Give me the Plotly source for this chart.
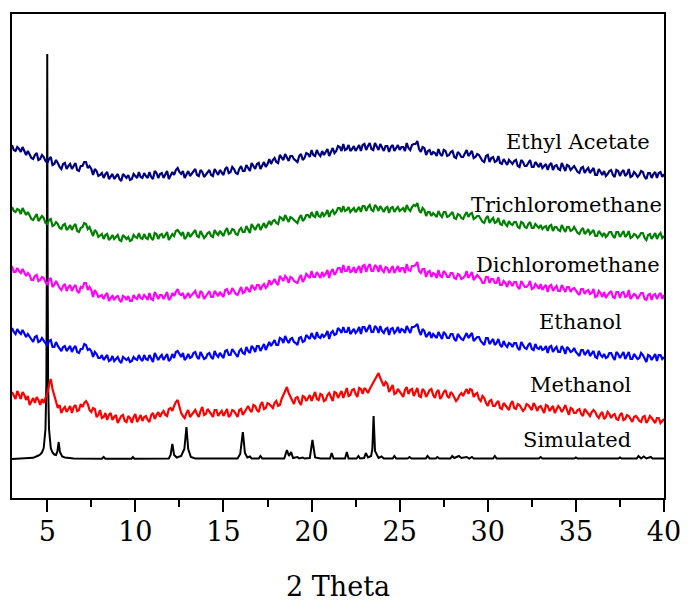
import numpy as np
import plotly.graph_objects as go

# 2-theta scan grid (degrees), 0.1 deg step
two_theta = np.round(np.linspace(3.0, 40.0, 371), 1)

# Measured patterns (a.u., before stacking)
ethyl_acetate = [
    54, 49, 48, 52, 50, 47, 52, 48, 44, 48, 45, 41, 40, 44, 46, 39, 40, 44, 42, 38,
    36, 40, 42, 34, 35, 39, 36, 32, 30, 35, 36, 30, 33, 35, 30, 33, 36, 29, 28, 33,
    33, 37, 37, 31, 33, 30, 24, 30, 28, 23, 24, 26, 21, 25, 27, 20, 22, 25, 20, 23,
    25, 20, 18, 25, 23, 21, 24, 19, 20, 25, 23, 21, 27, 22, 21, 26, 23, 21, 27, 22,
    20, 28, 26, 21, 25, 26, 21, 25, 28, 20, 23, 27, 24, 29, 31, 27, 25, 28, 21, 24,
    28, 23, 25, 28, 30, 24, 23, 29, 27, 22, 24, 27, 29, 24, 23, 30, 27, 24, 29, 26,
    24, 30, 32, 26, 27, 32, 30, 26, 25, 30, 33, 28, 28, 34, 31, 28, 36, 33, 30, 35,
    36, 30, 34, 37, 32, 35, 40, 35, 39, 41, 37, 36, 44, 42, 39, 45, 42, 38, 43, 43,
    40, 38, 37, 43, 45, 39, 41, 46, 45, 42, 49, 44, 43, 49, 45, 43, 48, 44, 47, 50,
    43, 48, 51, 46, 48, 53, 52, 48, 55, 49, 50, 54, 48, 50, 53, 48, 51, 54, 48, 54,
    55, 49, 53, 56, 50, 49, 56, 53, 49, 55, 51, 48, 53, 53, 47, 52, 54, 48, 51, 54,
    49, 52, 52, 48, 56, 51, 49, 54, 55, 55, 58, 50, 47, 52, 51, 44, 48, 49, 44, 47,
    46, 43, 50, 45, 43, 49, 48, 43, 44, 47, 48, 42, 41, 47, 45, 42, 42, 45, 49, 43,
    46, 48, 41, 42, 45, 44, 41, 38, 37, 43, 44, 37, 41, 42, 37, 38, 43, 36, 35, 40,
    37, 34, 39, 37, 35, 38, 39, 33, 32, 39, 37, 33, 33, 36, 39, 32, 32, 37, 34, 32,
    36, 31, 33, 35, 29, 34, 36, 29, 33, 34, 30, 29, 36, 32, 28, 34, 33, 29, 31, 33,
    30, 27, 26, 31, 32, 26, 29, 31, 26, 28, 31, 24, 24, 30, 27, 24, 28, 23, 25, 28,
    29, 24, 22, 29, 28, 23, 27, 29, 23, 25, 30, 22, 23, 27, 25, 22, 24, 28, 27, 22,
    20, 26, 26, 21, 25, 27, 21, 26, 27, 22, 25,
]
trichloromethane = [
    53, 49, 48, 51, 50, 46, 52, 48, 45, 48, 44, 41, 40, 43, 46, 39, 41, 44, 42, 37,
    36, 40, 41, 34, 35, 38, 36, 32, 31, 35, 36, 30, 32, 35, 30, 34, 36, 29, 28, 32,
    33, 37, 36, 31, 33, 29, 24, 30, 28, 23, 25, 26, 21, 25, 26, 20, 22, 25, 21, 23,
    25, 20, 19, 25, 23, 21, 23, 19, 20, 25, 23, 22, 27, 22, 21, 26, 22, 21, 27, 22,
    20, 27, 26, 21, 25, 26, 22, 25, 28, 20, 23, 26, 24, 29, 30, 27, 25, 28, 21, 23,
    28, 23, 25, 27, 30, 24, 23, 29, 26, 22, 24, 27, 28, 24, 23, 30, 27, 25, 29, 26,
    24, 29, 32, 26, 27, 31, 30, 26, 25, 30, 32, 28, 28, 34, 31, 27, 36, 33, 30, 34,
    36, 30, 33, 37, 32, 35, 39, 35, 39, 40, 37, 36, 43, 42, 39, 45, 41, 38, 43, 42,
    40, 38, 37, 42, 45, 39, 41, 45, 45, 42, 48, 44, 43, 49, 44, 43, 48, 44, 46, 50,
    43, 48, 50, 46, 48, 52, 52, 48, 54, 49, 50, 53, 48, 50, 52, 48, 51, 53, 48, 54,
    54, 49, 53, 55, 50, 49, 55, 53, 49, 54, 51, 48, 52, 53, 47, 52, 53, 48, 51, 53,
    49, 51, 52, 48, 55, 51, 49, 53, 55, 54, 57, 50, 47, 52, 50, 44, 48, 48, 44, 47,
    45, 43, 49, 45, 43, 48, 48, 43, 44, 46, 48, 42, 41, 46, 45, 42, 41, 45, 48, 43,
    46, 47, 41, 42, 44, 44, 41, 38, 37, 42, 44, 37, 40, 42, 37, 38, 42, 36, 35, 40,
    36, 34, 39, 36, 35, 38, 38, 33, 32, 38, 37, 33, 32, 36, 38, 32, 32, 36, 34, 32,
    35, 31, 33, 34, 29, 34, 35, 29, 33, 33, 30, 29, 35, 32, 28, 33, 33, 29, 30, 33,
    30, 27, 26, 30, 32, 26, 28, 31, 26, 28, 30, 24, 24, 29, 27, 24, 27, 23, 25, 28,
    28, 24, 22, 28, 28, 23, 26, 29, 23, 25, 29, 22, 23, 26, 25, 22, 24, 27, 27, 22,
    20, 25, 26, 21, 24, 27, 21, 25, 27, 22, 24,
]
dichloromethane = [
    54, 48, 48, 52, 49, 47, 51, 48, 44, 47, 45, 40, 40, 44, 45, 39, 40, 43, 42, 38,
    35, 40, 42, 33, 35, 39, 35, 32, 30, 34, 36, 29, 33, 35, 29, 33, 35, 29, 27, 33,
    32, 37, 37, 30, 33, 30, 23, 30, 27, 23, 24, 25, 21, 25, 27, 19, 22, 24, 20, 23,
    24, 20, 18, 24, 23, 20, 24, 19, 19, 25, 22, 21, 26, 22, 21, 25, 23, 20, 27, 21,
    20, 28, 25, 21, 25, 25, 21, 24, 28, 20, 22, 27, 24, 28, 31, 26, 25, 27, 21, 24,
    27, 23, 25, 28, 29, 24, 22, 29, 27, 21, 24, 26, 29, 23, 23, 29, 27, 24, 28, 26,
    23, 30, 31, 26, 27, 32, 29, 26, 25, 29, 33, 27, 28, 33, 31, 28, 35, 33, 30, 35,
    35, 30, 34, 36, 32, 34, 40, 35, 38, 41, 37, 35, 44, 41, 39, 44, 42, 37, 43, 42,
    39, 38, 37, 42, 45, 38, 41, 46, 44, 42, 49, 43, 43, 48, 45, 42, 48, 44, 46, 50,
    42, 48, 51, 45, 48, 52, 52, 47, 55, 49, 49, 54, 48, 49, 53, 47, 51, 54, 47, 54,
    55, 48, 53, 56, 49, 49, 55, 53, 48, 55, 50, 48, 53, 52, 47, 51, 54, 47, 51, 54,
    48, 52, 52, 47, 56, 50, 49, 54, 54, 55, 58, 49, 47, 51, 51, 43, 48, 49, 43, 47,
    46, 42, 50, 44, 43, 49, 47, 43, 43, 47, 47, 42, 41, 46, 45, 41, 42, 44, 49, 42,
    45, 48, 40, 42, 45, 43, 41, 37, 37, 43, 43, 37, 41, 41, 37, 37, 43, 35, 35, 39,
    37, 33, 39, 37, 34, 38, 38, 33, 31, 39, 36, 33, 33, 35, 39, 31, 32, 36, 34, 31,
    36, 30, 33, 35, 28, 34, 35, 29, 32, 34, 29, 29, 35, 32, 28, 33, 33, 28, 31, 32,
    29, 27, 25, 31, 31, 26, 29, 30, 26, 27, 31, 23, 24, 29, 27, 23, 28, 22, 25, 27,
    29, 23, 22, 28, 28, 22, 27, 28, 23, 24, 30, 21, 23, 26, 25, 21, 24, 27, 27, 21,
    20, 25, 26, 20, 25, 26, 21, 25, 27, 21, 25,
]
ethanol = [
    53, 49, 47, 52, 49, 47, 51, 47, 44, 47, 44, 41, 39, 44, 45, 39, 40, 43, 41, 38,
    35, 40, 41, 34, 34, 39, 35, 32, 30, 34, 35, 30, 32, 35, 29, 33, 35, 29, 28, 32,
    32, 37, 36, 31, 32, 30, 24, 29, 27, 23, 23, 26, 21, 24, 26, 20, 21, 25, 20, 22,
    24, 20, 18, 24, 22, 21, 23, 19, 20, 24, 22, 21, 26, 22, 20, 26, 22, 21, 26, 22,
    19, 28, 25, 21, 24, 26, 21, 24, 27, 20, 22, 27, 23, 29, 30, 27, 24, 28, 21, 23,
    27, 23, 24, 28, 29, 24, 22, 29, 26, 22, 23, 27, 28, 24, 22, 30, 26, 24, 28, 26,
    23, 30, 31, 26, 26, 32, 29, 26, 24, 30, 32, 28, 27, 34, 30, 28, 35, 33, 29, 35,
    35, 30, 33, 37, 31, 35, 39, 35, 38, 41, 36, 36, 43, 42, 38, 45, 41, 38, 42, 43,
    39, 38, 36, 43, 44, 39, 40, 46, 44, 42, 48, 44, 42, 49, 44, 43, 47, 44, 46, 50,
    42, 48, 50, 46, 47, 53, 51, 48, 54, 49, 49, 54, 47, 50, 52, 48, 50, 54, 47, 54,
    54, 49, 52, 56, 49, 49, 55, 53, 48, 55, 50, 48, 52, 53, 46, 52, 53, 48, 50, 54,
    48, 52, 51, 48, 55, 51, 48, 54, 54, 55, 57, 50, 46, 52, 50, 44, 47, 49, 43, 47,
    45, 43, 49, 45, 42, 49, 47, 43, 43, 47, 47, 42, 40, 47, 44, 42, 41, 45, 48, 43,
    45, 48, 40, 42, 44, 44, 40, 38, 36, 43, 43, 37, 40, 42, 36, 38, 42, 36, 34, 40,
    36, 34, 38, 37, 34, 38, 38, 33, 31, 39, 36, 33, 32, 36, 38, 32, 31, 37, 33, 32,
    35, 31, 32, 35, 28, 34, 35, 29, 32, 34, 29, 29, 35, 32, 27, 34, 32, 29, 30, 33,
    29, 27, 25, 31, 31, 26, 28, 31, 25, 28, 30, 24, 23, 30, 26, 24, 27, 23, 24, 28,
    28, 24, 21, 29, 27, 23, 26, 29, 22, 25, 29, 22, 22, 27, 24, 22, 23, 28, 26, 22,
    19, 26, 25, 21, 24, 27, 20, 26, 26, 22, 24,
]
methanol = [
    47, 43, 40, 48, 44, 40, 47, 44, 39, 43, 34, 37, 41, 36, 42, 39, 34, 40, 36, 41,
    45, 54, 60, 50, 44, 36, 31, 34, 26, 30, 32, 27, 30, 33, 26, 32, 34, 28, 29, 35,
    32, 36, 38, 35, 29, 27, 31, 30, 22, 24, 29, 21, 22, 26, 19, 24, 26, 19, 22, 24,
    16, 20, 23, 24, 18, 17, 23, 21, 16, 22, 25, 17, 20, 24, 18, 22, 23, 19, 17, 24,
    26, 20, 24, 27, 22, 26, 28, 24, 23, 30, 31, 28, 33, 37, 39, 33, 26, 23, 21, 26,
    29, 22, 24, 27, 29, 25, 22, 28, 32, 24, 25, 30, 28, 25, 22, 29, 29, 23, 26, 28,
    23, 27, 30, 22, 24, 29, 28, 25, 22, 29, 30, 24, 27, 31, 33, 29, 27, 34, 33, 29,
    27, 34, 37, 30, 31, 36, 35, 33, 31, 36, 38, 33, 34, 40, 44, 48, 52, 46, 42, 39,
    35, 41, 42, 37, 34, 43, 42, 38, 41, 44, 38, 42, 47, 40, 39, 45, 44, 38, 39, 44,
    46, 42, 38, 47, 46, 41, 45, 48, 41, 47, 51, 43, 44, 49, 50, 45, 42, 51, 50, 45,
    51, 49, 46, 50, 53, 56, 60, 63, 66, 61, 57, 53, 57, 55, 47, 51, 54, 45, 46, 50,
    48, 45, 42, 49, 52, 45, 49, 50, 43, 47, 51, 43, 42, 50, 48, 42, 45, 49, 50, 44,
    41, 47, 49, 40, 43, 47, 49, 43, 41, 47, 45, 41, 38, 40, 44, 46, 43, 47, 50, 45,
    50, 49, 42, 45, 46, 40, 38, 43, 41, 36, 33, 38, 39, 33, 33, 36, 38, 31, 30, 36,
    34, 32, 29, 35, 38, 31, 30, 35, 34, 31, 28, 30, 35, 34, 31, 29, 36, 33, 28, 32,
    33, 29, 26, 34, 33, 28, 31, 33, 26, 29, 33, 31, 27, 30, 34, 29, 24, 31, 30, 26,
    26, 29, 30, 25, 23, 30, 28, 25, 23, 27, 29, 27, 23, 21, 25, 27, 20, 22, 27, 25,
    21, 24, 25, 20, 19, 24, 26, 19, 20, 24, 23, 20, 17, 22, 23, 21, 18, 17, 22, 23,
    16, 19, 23, 21, 18, 16, 21, 21, 16, 18, 20,
]

# Simulated pattern from the single-crystal structure (peak profile vertices)
sim_two_theta = [
    3.0, 3.8, 4.2, 4.5, 4.6, 4.7, 4.8, 4.9, 4.95, 4.98, 5.0, 5.02, 5.05, 5.1, 5.2,
    5.3, 5.4, 5.5, 5.58, 5.65, 5.72, 5.85, 6.0, 6.5, 8.1, 8.2, 8.3, 9.78, 9.86, 9.94,
    11.9, 12.0, 12.1, 12.2, 12.35, 12.6, 12.78, 12.9, 13.0, 13.15, 13.4, 15.8, 15.95,
    16.1, 16.22, 16.35, 16.5, 16.6, 17.0, 17.1, 17.2, 18.45, 18.6, 18.72, 18.84, 18.95,
    19.2, 19.3, 19.5, 19.6, 19.9, 20.05, 20.2, 20.5, 21.05, 21.14, 21.25, 21.9, 22.0,
    22.1, 22.55, 22.66, 22.75, 22.98, 23.08, 23.2, 23.38, 23.45, 23.52, 23.6, 23.8,
    23.97, 24.1, 24.6, 24.7, 24.8, 25.45, 25.56, 25.67, 26.48, 26.58, 26.7, 27.05,
    27.14, 27.25, 27.88, 27.98, 28.1, 28.36, 28.5, 28.8, 28.95, 29.1, 29.2, 30.3, 30.4,
    30.5, 32.9, 33.0, 33.1, 34.9, 35.0, 35.1, 37.4, 37.5, 37.6, 38.45, 38.55, 38.7,
    38.85, 39.0, 39.25, 39.35, 40.0,
]
sim_intensity = [
    0, 0.7, 1.2, 3.5, 4.5, 6.5, 11, 30, 75, 200, 405, 200, 75, 30, 11,
    6.5, 4.5, 4, 8, 17, 7, 2.5, 1.5, 0.5, 0.3, 2, 0.3, 0.3, 2, 0.3,
    0.5, 4, 15, 4, 1.5, 3, 10, 32, 10, 2, 0.5, 0.5, 5,
    27, 6, 1.5, 2.5, 0.5, 0.5, 3, 0.5, 0.5, 9, 3, 7, 1,
    2, 0.5, 1.5, 0.5, 1, 19, 1.5, 0.5, 0.5, 6, 0.5, 0.5, 7,
    0.5, 0.5, 3, 0.5, 1, 6, 1.5, 3, 10, 43, 8, 1,
    2.5, 0.5, 0.5, 3, 0.5, 0.5, 2, 0.5, 0.5, 3, 0.5, 0.5,
    2, 0.5, 0.5, 3, 1, 3, 1, 2, 0.5, 2, 0.5, 0.5, 3,
    0.5, 0.5, 2, 0.5, 0.5, 1.5, 0.5, 0.5, 1.5, 0.5, 0.5, 3, 0.5,
    2.5, 0.5, 2, 0.5, 0.5,
]
assert len(sim_two_theta) == len(sim_intensity)

labels = ["Simulated", "Methanol", "Ethanol", "Dichloromethane",
          "Trichloromethane", "Ethyl Acetate"]
patterns = [None, methanol, ethanol, dichloromethane, trichloromethane, ethyl_acetate]
colors = ["#000000", "#FF0000", "#0000FF", "#FF00FF", "#008000", "#000080"]
# vertical stacking offset of each pattern
offsets = [39, 59, 117, 178, 238, 299]
# label anchor (2theta, height on stacked axis)
label_pos = [(35.07, 58), (35.27, 113.5), (35.24, 176.5),
             (34.57, 233.5), (34.46, 293.5), (35.13, 356.5)]

FONT = "DejaVu Serif"

fig = go.Figure()

# simulated pattern underneath the measured ones
fig.add_trace(go.Scatter(
    x=sim_two_theta, y=np.array(sim_intensity) + offsets[0], mode="lines",
    line=dict(color=colors[0], width=2), name=labels[0], showlegend=False))

for name, data, col, off in zip(labels[1:], patterns[1:], colors[1:], offsets[1:]):
    assert len(data) == len(two_theta)
    fig.add_trace(go.Scatter(
        x=two_theta, y=np.array(data) + off, mode="lines",
        line=dict(color=col, width=2.2), name=name, showlegend=False))

for name, (lx, ly) in zip(labels, label_pos):
    fig.add_annotation(x=lx, y=ly, xref="x", yref="y", text=name, showarrow=False,
                       xanchor="center", yanchor="middle",
                       font=dict(family=FONT, size=21, color="black"))

fig.add_annotation(x=0.5, y=-0.182, xref="paper", yref="paper", text="2 Theta",
                   showarrow=False, xanchor="center", yanchor="middle",
                   font=dict(family=FONT, size=27, color="black"))

fig.update_layout(
    width=693, height=601,
    margin=dict(l=12, r=20, t=14, b=103),
    paper_bgcolor="white", plot_bgcolor="white",
    font=dict(family=FONT, color="black"),
)
fig.update_xaxes(
    range=[3, 40], tickmode="array", tickvals=[5, 10, 15, 20, 25, 30, 35, 40],
    ticks="outside", ticklen=12, tickwidth=1.5, tickcolor="black",
    ticklabelstandoff=-3,
    tickfont=dict(family=FONT, size=27, color="black"),
    minor=dict(tickmode="array", tickvals=[7.5, 12.5, 17.5, 22.5, 27.5, 32.5, 37.5],
               ticks="outside", ticklen=7, tickwidth=1.5, tickcolor="black"),
    showline=True, linewidth=2, linecolor="black", mirror=True,
    showgrid=False, zeroline=False,
)
fig.update_yaxes(
    range=[0, 484], showticklabels=False, ticks="",
    showline=True, linewidth=2, linecolor="black", mirror=True,
    showgrid=False, zeroline=False,
)

fig.write_html("out.html")
